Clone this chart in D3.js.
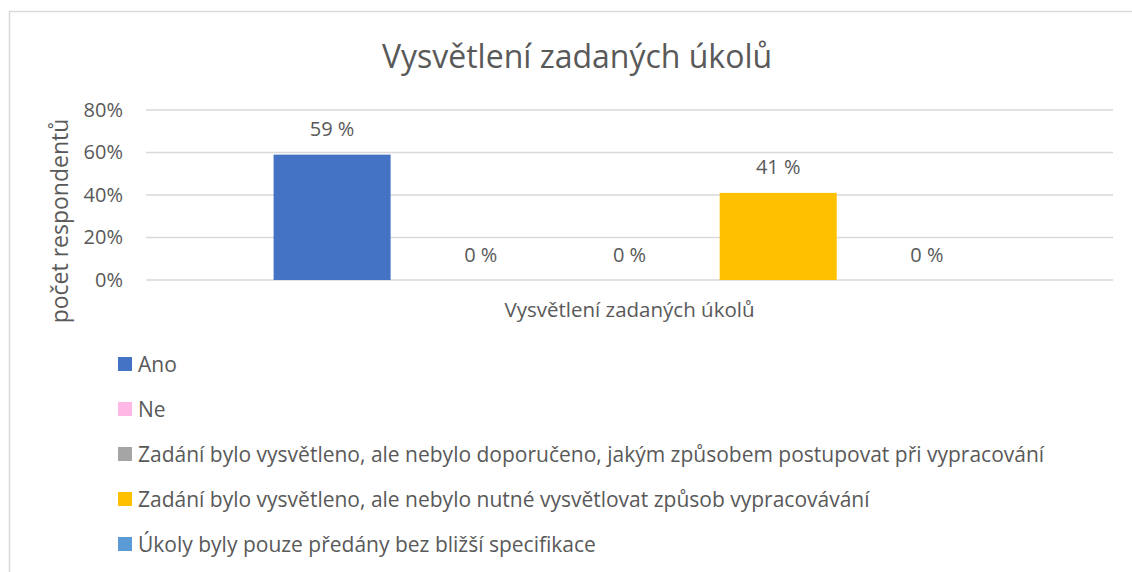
<!DOCTYPE html>
<head>
<meta charset="utf-8">
<title>Vysvětlení zadaných úkolů</title>
<style>
body { margin: 0; background: #fff; }
text { font-family: "Open Sans", sans-serif; fill: #595959; }
.grid line { stroke: #d9d9d9; stroke-width: 1.5; }
</style>
</head>
<body>
<div id="chart"></div>
<script src="https://d3js.org/d3.v7.min.js"></script>
<script>

// data
var chartTitle = "Vysvětlení zadaných úkolů";
var categoryName = "Vysvětlení zadaných úkolů";
var seriesNames = [
  "Ano",
  "Ne",
  "Zadání bylo vysvětleno, ale nebylo doporučeno, jakým způsobem postupovat při vypracování",
  "Zadání bylo vysvětleno, ale nebylo nutné vysvětlovat způsob vypracovávání",
  "Úkoly byly pouze předány bez bližší specifikace"
];
var seriesValues = [0.59, 0, 0, 0.41, 0];
var seriesColors = ["#4472c4", "#ffb7e6", "#a5a5a5", "#ffc000", "#5b9bd5"];
var yTicks = [0, 0.2, 0.4, 0.6, 0.8];
var yTitle = "počet respondentů";

var W = 1132, H = 572;
var margin = {top: 110, right: 19, bottom: 292, left: 146},
    width = W - margin.left - margin.right,
    height = H - margin.top - margin.bottom;

var svg = d3.select("#chart").append("svg")
    .attr("width", W)
    .attr("height", H);

// chart border
svg.append("path")
    .attr("d", "M9.5," + H + "V11.5H" + W)
    .attr("fill", "none")
    .attr("stroke", "#d9d9d9")
    .attr("stroke-width", 1.5);

svg.append("text")
    .attr("x", 577)
    .attr("y", 68)
    .attr("text-anchor", "middle")
    .style("font-size", "32px")
    .text(chartTitle);

var g = svg.append("g")
    .attr("transform", "translate(" + margin.left + "," + margin.top + ")");

var x = d3.scaleBand()
    .domain(seriesNames)
    .range([0, width])
    .paddingInner(0.213)
    .paddingOuter(0.858);

var y = d3.scaleLinear()
    .domain([0, 0.8])
    .range([height, 0]);

// gridlines
g.append("g")
    .attr("class", "grid")
    .selectAll("line")
    .data(yTicks)
  .enter().append("line")
    .attr("x1", 0)
    .attr("x2", width)
    .attr("y1", function(d) { return y(d); })
    .attr("y2", function(d) { return y(d); });

// y axis labels
var yAxis = g.append("g")
    .call(d3.axisLeft(y).tickValues(yTicks).tickFormat(d3.format(".0%")).tickSize(0).tickPadding(23));
yAxis.select(".domain").remove();
yAxis.selectAll("text")
    .style("font-size", "20px")
    .attr("fill", "#595959");

// bars
g.selectAll(".bar")
    .data(seriesValues)
  .enter().append("rect")
    .attr("class", "bar")
    .attr("x", function(d, i) { return x(seriesNames[i]); })
    .attr("width", x.bandwidth())
    .attr("y", function(d) { return y(d); })
    .attr("height", function(d) { return height - y(d); })
    .attr("fill", function(d, i) { return seriesColors[i]; });

// value labels
g.selectAll(".lbl")
    .data(seriesValues)
  .enter().append("text")
    .attr("class", "lbl")
    .attr("x", function(d, i) { return x(seriesNames[i]) + x.bandwidth() / 2; })
    .attr("y", function(d) { return y(d) - 18.5; })
    .attr("text-anchor", "middle")
    .style("font-size", "20px")
    .text(function(d) { return Math.round(d * 100) + " %"; });

// x axis title
g.append("text")
    .attr("x", width / 2)
    .attr("y", height + 37)
    .attr("text-anchor", "middle")
    .style("font-size", "20.5px")
    .text(categoryName);

// y axis title
svg.append("text")
    .attr("transform", "translate(68," + (margin.top + 111) + ")rotate(-90)")
    .attr("text-anchor", "middle")
    .style("font-size", "23px")
    .text(yTitle);

// legend
var legend = svg.append("g")
    .attr("transform", "translate(118,364)");

var item = legend.selectAll(".item")
    .data(seriesNames)
  .enter().append("g")
    .attr("class", "item")
    .attr("transform", function(d, i) { return "translate(0," + (i * 45) + ")"; });

item.append("rect")
    .attr("x", 0)
    .attr("y", -7)
    .attr("width", 14)
    .attr("height", 14)
    .attr("fill", function(d, i) { return seriesColors[i]; });

item.append("text")
    .attr("x", 20)
    .attr("y", 7.5)
    .style("font-size", "21px")
    .text(function(d) { return d; });

</script>
</body>
</html>
